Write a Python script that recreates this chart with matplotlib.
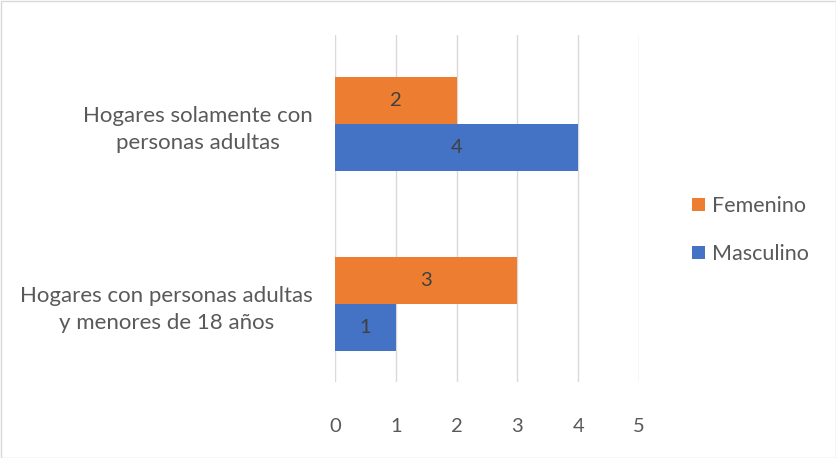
import matplotlib
matplotlib.use("Agg")
import matplotlib.pyplot as plt
import numpy as np

categories = ["Hogares con personas adultas\ny menores de 18 años",
              "Hogares solamente con\npersonas adultas"]
femenino = [3, 2]
masculino = [1, 4]
xticks = [0, 1, 2, 3, 4, 5]

plt.rcParams['font.family'] = ['Lato', 'DejaVu Sans']

fig = plt.figure(figsize=(8.36, 4.58), dpi=100)
ax = fig.add_axes([335/836, 1-382/458, 304/836, 347/458])

y = np.arange(len(categories))
h = 0.26
bf = ax.barh(y + h/2, femenino, height=h, color="#ED7D31", label="Femenino", zorder=3)
bm = ax.barh(y - h/2, masculino, height=h, color="#4472C4", label="Masculino", zorder=3)
for bars in (bf, bm):
    for b in bars:
        ax.text(b.get_width()/2, b.get_y() + b.get_height()/2, f"{int(b.get_width())}",
                ha="center", va="center", fontsize=14.5, color="#404040", zorder=4)

ax.set_xlim(0, 5)
ax.set_ylim(-0.433, 1.494)
ax.set_xticks(xticks)
ax.set_yticks(y)
ax.set_yticklabels(categories, fontsize=16, color="#595959", ha="right", ma="center",
                   linespacing=1.45)
ax.tick_params(axis="y", length=0, pad=16)
ax.tick_params(axis="x", length=0, labelsize=14.5, labelcolor="#595959", pad=26)
ax.grid(axis="x", color="#D9D9D9", linewidth=1, zorder=0)
for s in ax.spines.values():
    s.set_visible(False)

handles = [bf, bm]
leg = fig.legend(handles, ["Femenino", "Masculino"], loc="center left",
                 bbox_to_anchor=(673/836, 1-230/458), frameon=False, fontsize=15.5,
                 handlelength=0.6, handleheight=0.6, handletextpad=0.3, labelspacing=1.3,
                 labelcolor="#595959")

fig.patches.append(plt.Rectangle((0.5/836, 0.5/458), 1-1/836, 1-1/458, transform=fig.transFigure,
                                 fill=False, edgecolor="#D9D9D9", linewidth=1))
fig.savefig("out.png", dpi=100)
